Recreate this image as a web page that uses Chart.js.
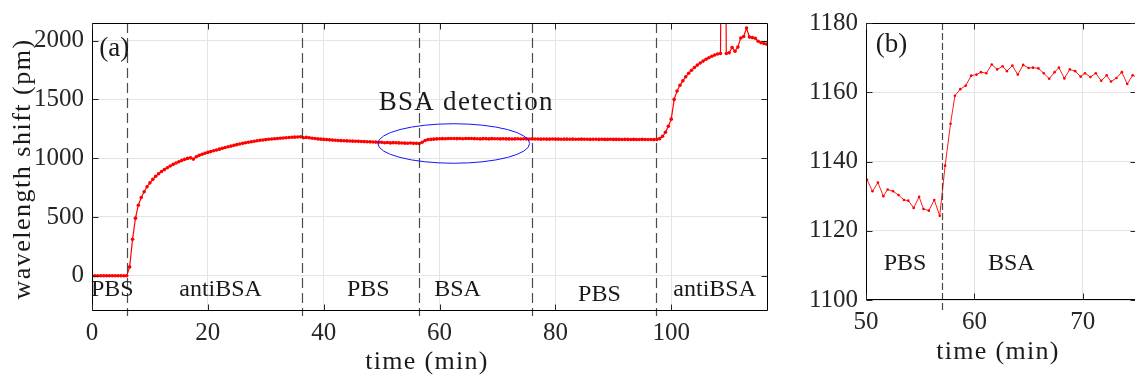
<!DOCTYPE html>
<html>
<head>
<meta charset="utf-8">
<script src="https://cdn.jsdelivr.net/npm/chart.js@4.4.1/dist/chart.umd.min.js"></script>
<style>
  html, body { margin: 0; padding: 0; background: #fff; overflow: hidden; }
  body { width: 1135px; height: 379px; position: relative; }
  .panel { position: absolute; top: 0; }
  #panelA { left: 0; }
  #panelB { left: 790px; }
</style>
</head>
<body>
<div class="panel" id="panelA"><canvas id="chartA" width="780" height="379"></canvas></div>
<div class="panel" id="panelB"><canvas id="chartB" width="360" height="379"></canvas></div>
<script>
// panel (a): whole run, one reading about every half minute (min / pm)
const timeA = [
  0, 0.5, 1, 1.5, 2, 2.5, 3, 3.5, 4, 4.5,
  5, 5.5, 6, 6.5, 7, 7.5, 8, 8.5, 9, 9.5,
  10, 10.5, 11, 11.5, 12, 12.5, 13, 13.5, 14, 14.5,
  15, 15.5, 16, 16.5, 17, 17.5, 18, 18.5, 19, 19.5,
  20, 20.5, 21, 21.5, 22, 22.5, 23, 23.5, 24, 24.5,
  25, 25.5, 26, 26.5, 27, 27.5, 28, 28.5, 29, 29.5,
  30, 30.5, 31, 31.5, 32, 32.5, 33, 33.5, 34, 34.5,
  35, 35.5, 36, 36.5, 37, 37.5, 38, 38.5, 39, 39.5,
  40, 40.5, 41, 41.5, 42, 42.5, 43, 43.5, 44, 44.5,
  45, 45.5, 46, 46.5, 47, 47.5, 48, 48.5, 49, 49.5,
  50, 50.5, 51, 51.5, 52, 52.5, 53, 53.5, 54, 54.5,
  55, 55.5, 56, 56.5, 57, 57.5, 58, 58.5, 59, 59.5,
  60, 60.5, 61, 61.5, 62, 62.5, 63, 63.5, 64, 64.5,
  65, 65.5, 66, 66.5, 67, 67.5, 68, 68.5, 69, 69.5,
  70, 70.5, 71, 71.5, 72, 72.5, 73, 73.5, 74, 74.5,
  75, 75.5, 76, 76.5, 77, 77.5, 78, 78.5, 79, 79.5,
  80, 80.5, 81, 81.5, 82, 82.5, 83, 83.5, 84, 84.5,
  85, 85.5, 86, 86.5, 87, 87.5, 88, 88.5, 89, 89.5,
  90, 90.5, 91, 91.5, 92, 92.5, 93, 93.5, 94, 94.5,
  95, 95.5, 96, 96.5, 97, 97.5, 98, 98.5, 99, 99.5,
  100, 100.5, 101, 101.5, 102, 102.5, 103, 103.5, 104, 104.5,
  105, 105.5, 106, 106.5, 107, 107.5, 108, 108.5, 109, 109.5,
  110, 110.5, 111, 111.5, 112, 112.5, 113, 113.5, 114, 114.5,
  115, 115.5, 116, 116.5
];
const shiftA = [
  0, 0, 0, 0, 0, 0, 0, 0, 0, 0,
  0, 0, 0, 75, 310, 490, 600, 665, 715, 757,
  790, 820, 846, 868, 887, 903, 918, 933, 947, 959,
  970, 981, 990, 998, 1003, 992, 1012, 1024, 1034, 1042,
  1049, 1056, 1063, 1070, 1077, 1084, 1091, 1097, 1103, 1109,
  1115, 1121, 1126, 1131, 1136, 1140, 1144, 1148, 1152, 1155,
  1158, 1161, 1163, 1165, 1168, 1170, 1172, 1174, 1176, 1178,
  1179, 1180, 1182, 1174, 1177, 1174, 1170, 1167, 1164, 1162,
  1160, 1158, 1156, 1154, 1152, 1150, 1149, 1148, 1147, 1146,
  1145, 1144, 1143, 1142, 1141, 1140, 1139, 1138, 1137, 1136,
  1135, 1131, 1134, 1130, 1132, 1131, 1130, 1129, 1128, 1127,
  1129, 1126, 1126, 1124, 1135, 1150, 1158, 1160, 1162, 1164,
  1165, 1166, 1165, 1168, 1167, 1167, 1166, 1168, 1165, 1168,
  1167, 1167, 1166, 1165, 1164, 1166, 1166, 1164, 1166, 1165,
  1165, 1164, 1165, 1164, 1164, 1163, 1164, 1165, 1163, 1165,
  1164, 1163, 1164, 1163, 1163, 1162, 1163, 1162, 1162, 1163,
  1162, 1162, 1161, 1162, 1162, 1161, 1162, 1161, 1161, 1162,
  1161, 1161, 1160, 1161, 1161, 1160, 1161, 1160, 1160, 1161,
  1160, 1160, 1160, 1159, 1160, 1160, 1159, 1160, 1159, 1159,
  1160, 1159, 1159, 1159, 1158, 1160, 1166, 1186, 1220, 1272,
  1332, 1500, 1572, 1620, 1658, 1693, 1722, 1748, 1772, 1792,
  1810, 1826, 1841, 1855, 1867, 1878, 1886, 1891, 6000, 1891,
  1897, 1942, 1910, 1945, 2023, 2035, 2107, 2030, 2026, 2020,
  1995, 1982, 1976, 1970
];

// panel (b): close-up of the BSA step
const timeB = [
  50.1, 50.6, 51.1, 51.6, 52.0, 52.5, 53.0, 53.5, 53.9, 54.4,
  54.9, 55.3, 55.8, 56.3, 56.8, 57.3, 57.8, 58.2, 58.7, 59.2,
  59.7, 60.2, 60.6, 61.1, 61.6, 62.1, 62.6, 63.0, 63.5, 64.0,
  64.5, 65.0, 65.4, 65.9, 66.4, 66.9, 67.4, 67.8, 68.3, 68.8,
  69.3, 69.8, 70.2, 70.7, 71.2, 71.7, 72.2, 72.6, 73.1, 73.6,
  74.1, 74.6, 75.1
];
const shiftB = [
  1134.7, 1131.4, 1133.9, 1130.0, 1131.9, 1131.4, 1130.3, 1128.9, 1128.7, 1126.6,
  1129.8, 1126.3, 1125.8, 1128.9, 1124.3, 1138.8, 1150.9, 1159.0, 1160.9, 1161.9,
  1164.8, 1165.1, 1165.8, 1165.5, 1168.0, 1166.6, 1167.5, 1166.1, 1167.7, 1165.1,
  1167.9, 1167.0, 1167.1, 1166.9, 1165.5, 1163.9, 1165.8, 1167.1, 1164.0, 1166.6,
  1166.1, 1164.5, 1165.5, 1164.4, 1165.5, 1163.3, 1164.9, 1163.1, 1164.1, 1165.8,
  1162.4, 1164.9, 1164.2
];

const xTicksA = [0, 20, 40, 60, 80, 100];
const yTicksA = [0, 500, 1000, 1500, 2000];
const xTicksB = [50, 60, 70];
const yTicksB = [1100, 1120, 1140, 1160, 1180];

// times where the flowing solution was switched (min)
const switchTimesA = [6.0, 36.3, 56.5, 76.0, 97.4];
const switchTimesB = [57.0];

const SERIF = '"Liberation Serif", "Times New Roman", serif';
const INK = '#1a1a1a';

// draws dashed switch lines, the box with inward ticks, and the text notes
const decorPlugin = {
  id: 'decor',
  afterDatasetsDraw(chart, args, opts) {
    const { ctx, chartArea: area } = chart;
    const x = chart.scales.x;
    const y = chart.scales.y;
    ctx.save();

    ctx.strokeStyle = 'rgba(55,55,55,0.9)';
    ctx.lineWidth = 1.2;
    ctx.setLineDash(opts.dash);
    opts.switches.forEach(t => {
      const px = Math.round(x.getPixelForValue(t)) + 0.5;
      ctx.beginPath();
      ctx.moveTo(px, area.top);
      ctx.lineTo(px, area.bottom + opts.overhang);
      ctx.stroke();
    });
    ctx.setLineDash([]);

    if (opts.ellipse) {
      const e = opts.ellipse;
      const cx = x.getPixelForValue(e.t);
      const cy = y.getPixelForValue(e.v);
      const rx = x.getPixelForValue(e.t + e.dt) - cx;
      const ry = cy - y.getPixelForValue(e.v + e.dv);
      ctx.strokeStyle = '#1414ff';
      ctx.lineWidth = 1;
      ctx.beginPath();
      ctx.ellipse(cx, cy, rx, ry, 0, 0, Math.PI * 2);
      ctx.stroke();
    }

    // box
    const l = Math.round(area.left) + 0.5, r = Math.round(area.right) - 0.5;
    const t = Math.round(area.top) + 0.5, b = Math.round(area.bottom) - 0.5;
    ctx.strokeStyle = '#000';
    ctx.lineWidth = 1;
    ctx.beginPath();
    ctx.moveTo(l, t); ctx.lineTo(r, t); ctx.lineTo(r, b); ctx.lineTo(l, b); ctx.closePath();
    ctx.stroke();

    // inward ticks on all four sides
    ctx.strokeStyle = '#262626';
    ctx.beginPath();
    opts.xTicks.forEach(v => {
      const px = Math.round(x.getPixelForValue(v)) + 0.5;
      ctx.moveTo(px, b); ctx.lineTo(px, b - 6);
      ctx.moveTo(px, t); ctx.lineTo(px, t + 6);
    });
    opts.yTicks.forEach(v => {
      const py = Math.round(y.getPixelForValue(v)) + 0.5;
      ctx.moveTo(l, py); ctx.lineTo(l + 6, py);
      ctx.moveTo(r, py); ctx.lineTo(r - 6, py);
    });
    ctx.stroke();

    // notes inside the plot
    ctx.fillStyle = INK;
    ctx.textAlign = 'center';
    ctx.textBaseline = 'middle';
    opts.notes.forEach(n => {
      ctx.font = n.size + 'px ' + SERIF;
      ctx.letterSpacing = (n.spacing || 0) + 'px';
      ctx.fillText(n.text, x.getPixelForValue(n.t), y.getPixelForValue(n.v));
    });

    // axis titles
    ctx.font = '26px ' + SERIF;
    ctx.letterSpacing = '1.3px';
    ctx.fillText(opts.xTitle.text, opts.xTitle.x, opts.xTitle.y);
    if (opts.yTitle) {
      ctx.translate(opts.yTitle.x, opts.yTitle.y);
      ctx.rotate(-Math.PI / 2);
      ctx.letterSpacing = '1.5px';
      ctx.fillText(opts.yTitle.text, 0, 0);
    }
    ctx.restore();
  }
};

function points(times, values) {
  return times.map((t, i) => ({ x: t, y: values[i] }));
}

function axis(ticks, min, max, fitSize, horizontal, padding) {
  return {
    type: 'linear',
    min: min,
    max: max,
    afterBuildTicks: scale => { scale.ticks = ticks.map(v => ({ value: v })); },
    afterFit: scale => {
      if (horizontal) scale.height = fitSize; else scale.width = fitSize;
    },
    grid: { color: '#e4e4e4', lineWidth: 1, drawTicks: false },
    border: { display: false },
    ticks: {
      autoSkip: false,
      maxRotation: 0,
      padding: padding,
      color: '#262626',
      font: { family: SERIF, size: 25 },
      callback: v => String(v)
    }
  };
}

function makeChart(id, data, cfg) {
  return new Chart(document.getElementById(id), {
    type: 'line',
    data: {
      datasets: [{
        data: data,
        borderColor: '#ff0000',
        borderWidth: cfg.lineWidth,
        pointRadius: cfg.dot,
        pointBackgroundColor: '#ff0000',
        pointBorderColor: '#ff0000',
        pointBorderWidth: 0,
        pointHoverRadius: 0,
        tension: 0
      }]
    },
    options: {
      responsive: false,
      animation: false,
      events: [],
      layout: { padding: cfg.padding },
      scales: { x: cfg.x, y: cfg.y },
      plugins: { legend: { display: false }, tooltip: { enabled: false }, decor: cfg.decor }
    },
    plugins: [decorPlugin]
  });
}

makeChart('chartA', points(timeA, shiftA), {
  lineWidth: 1.2,
  dot: 1.8,
  padding: { left: 0, top: 8, right: 12, bottom: 0 },
  x: axis(xTicksA, 0, 116.7, 68, true, 7),
  y: axis(yTicksA, -300, 2150, 92, false, 8),
  decor: {
    switches: switchTimesA,
    dash: [10, 5],
    overhang: 5,
    xTicks: xTicksA,
    yTicks: yTicksA,
    ellipse: { t: 62.45, v: 1125, dt: 13.1, dv: 168 },
    notes: [
      { text: '(a)', t: 3.85, v: 1931, size: 27 },
      { text: 'BSA detection', t: 64.6, v: 1466, size: 27, spacing: 1.3 },
      { text: 'PBS', t: 3.5, v: -122, size: 24 },
      { text: 'antiBSA', t: 22.2, v: -122, size: 24 },
      { text: 'PBS', t: 47.7, v: -122, size: 24 },
      { text: 'BSA', t: 63.1, v: -122, size: 24 },
      { text: 'PBS', t: 87.6, v: -158, size: 24 },
      { text: 'antiBSA', t: 107.5, v: -122, size: 24 }
    ],
    xTitle: { text: 'time (min)', x: 427, y: 362 },
    yTitle: { text: 'wavelength shift (pm)', x: 23, y: 169 }
  }
});

makeChart('chartB', points(timeB, shiftB), {
  lineWidth: 0.9,
  dot: 1.3,
  padding: { left: 0, top: 12, right: 13, bottom: 0 },
  x: axis(xTicksB, 50, 75, 79, true, 7),
  y: axis(yTicksB, 1100, 1180, 76, false, 8),
  decor: {
    switches: switchTimesB,
    dash: [7, 3],
    overhang: 10,
    xTicks: xTicksB,
    yTicks: yTicksB,
    notes: [
      { text: '(b)', t: 52.35, v: 1173.6, size: 27 },
      { text: 'PBS', t: 53.6, v: 1110.6, size: 24 },
      { text: 'BSA', t: 63.4, v: 1110.6, size: 24 }
    ],
    xTitle: { text: 'time (min)', x: 208, y: 352 },
    yTitle: null
  }
});
</script>
</body>
</html>
